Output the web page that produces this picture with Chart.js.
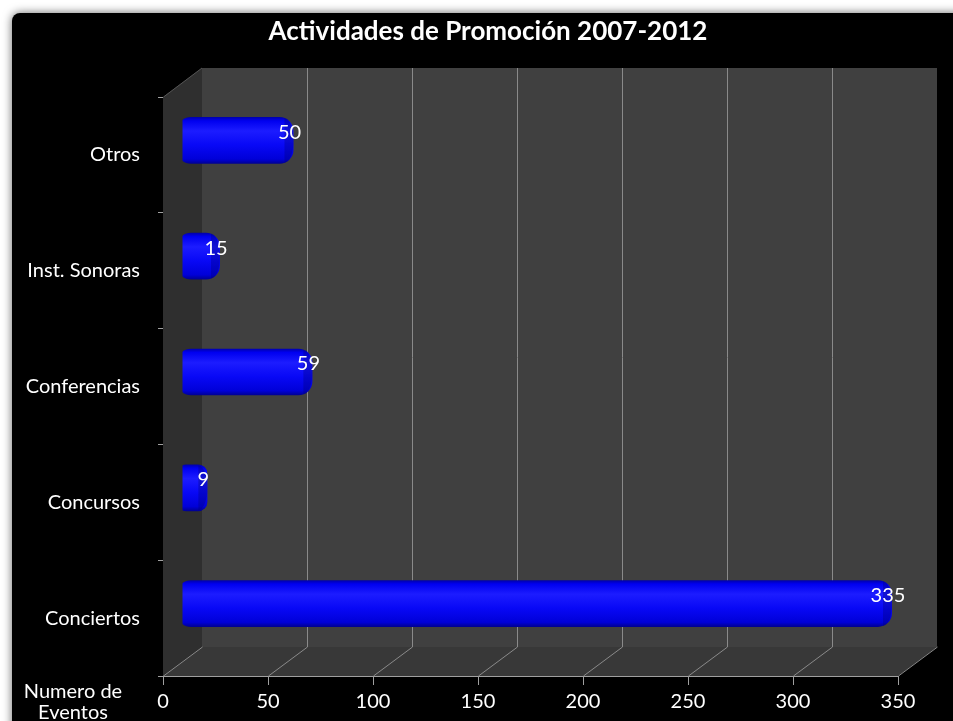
<!DOCTYPE html>
<html>
<head>
<meta charset="utf-8">
<script src="https://cdn.jsdelivr.net/npm/chart.js@4/dist/chart.umd.min.js"></script>
<style>
  html, body { margin: 0; padding: 0; background: #fff; }
  #wrap { width: 953px; height: 721px; }
</style>
</head>
<body>
<div id="wrap"><canvas id="promoChart" width="953" height="721"></canvas></div>
<script>
const categories = ['Otros', 'Inst. Sonoras', 'Conferencias', 'Concursos', 'Conciertos'];
const eventCounts = [50, 15, 59, 9, 335];
const xTicks = [0, 50, 100, 150, 200, 250, 300, 350];

// fake 3D depth (oblique offset of back wall)
const DEPTH_X = 39, DEPTH_Y = -29;
const BAR_PCT = 0.3;
const INFLATE = 6;

const frame = {
  id: 'frame',
  beforeDraw(chart) {
    const c = chart.ctx;
    c.save();
    c.fillStyle = '#fff';
    c.fillRect(0, 0, chart.width, chart.height);
    c.shadowColor = 'rgba(0,0,0,0.6)';
    c.shadowBlur = 10;
    c.fillStyle = '#000';
    c.beginPath();
    c.roundRect(12, 13, chart.width + 20, chart.height + 20, 8);
    c.fill();
    c.restore();
  }
};

const walls = {
  id: 'walls',
  beforeDatasetsDraw(chart) {
    const c = chart.ctx, a = chart.chartArea, x = chart.scales.x;
    const l = a.left, r = a.right, t = a.top, b = a.bottom;
    c.save();
    // back wall
    c.fillStyle = '#404040';
    c.fillRect(l + DEPTH_X, t + DEPTH_Y, r - l, b - t);
    // side wall
    c.fillStyle = '#2f2f2f';
    c.beginPath();
    c.moveTo(l, t); c.lineTo(l + DEPTH_X, t + DEPTH_Y);
    c.lineTo(l + DEPTH_X, b + DEPTH_Y); c.lineTo(l, b); c.closePath(); c.fill();
    // floor
    c.fillStyle = '#383838';
    c.beginPath();
    c.moveTo(l, b); c.lineTo(r, b);
    c.lineTo(r + DEPTH_X, b + DEPTH_Y); c.lineTo(l + DEPTH_X, b + DEPTH_Y);
    c.closePath(); c.fill();
    // grid lines on back wall and floor
    c.strokeStyle = '#8a8a8a';
    c.lineWidth = 1;
    xTicks.forEach((v, i) => {
      const px = Math.round(x.getPixelForValue(v)) + 0.5;
      c.beginPath();
      if (i > 0 && i < xTicks.length - 1) {
        c.moveTo(px + DEPTH_X, t + DEPTH_Y);
        c.lineTo(px + DEPTH_X, b + DEPTH_Y);
      }
      c.moveTo(px, b);
      c.lineTo(px + DEPTH_X, b + DEPTH_Y);
      c.stroke();
    });
    c.strokeStyle = '#555';
    c.beginPath();
    c.moveTo(l + 0.5, t); c.lineTo(l + DEPTH_X, t + DEPTH_Y);
    c.stroke();
    c.restore();
    // shift bars to mid depth
    c.save();
    c.translate(DEPTH_X / 2, DEPTH_Y / 2);
  },
  afterDatasetsDraw(chart) {
    const c = chart.ctx;
    const meta = chart.getDatasetMeta(0);
    // cylinder end caps
    meta.data.forEach((bar) => {
      const h = bar.height / 2 + INFLATE;
      c.fillStyle = 'rgba(0,0,110,0.3)';
      c.beginPath();
      c.ellipse(bar.x - 3, bar.y, 9, h - 1, 0, -Math.PI / 2, Math.PI / 2);
      c.fill();
    });
    c.restore();
    // value labels
    c.save();
    c.fillStyle = '#fff';
    c.font = '20px Lato';
    c.textAlign = 'center';
    c.textBaseline = 'middle';
    meta.data.forEach((bar, i) => {
      c.fillText(String(eventCounts[i]), bar.x + DEPTH_X / 2 + 2, bar.y + DEPTH_Y / 2 - 8);
    });
    // axis title
    c.font = '20px Lato';
    const a = chart.chartArea;
    c.fillText('Numero de', a.left - 90, a.bottom + 16);
    c.fillText('Eventos', a.left - 90, a.bottom + 37);
    c.restore();
  }
};

// vertical shading of each cylinder; the canvas is already translated when bars are filled
function barFill(ctx) {
  const chart = ctx.chart, y = chart.scales.y;
  if (!y || ctx.dataIndex == null) return '#0a0aff';
  const yc = y.getPixelForValue(ctx.dataIndex);
  const h = (y.height / categories.length) * BAR_PCT / 2 + INFLATE;
  if (!isFinite(yc) || !isFinite(h) || h <= 0) return '#0a0aff';
  const g = chart.ctx.createLinearGradient(0, yc - h, 0, yc + h);
  g.addColorStop(0, '#0000a8');
  g.addColorStop(0.08, '#0000f0');
  g.addColorStop(0.3, '#1c1cff');
  g.addColorStop(0.6, '#0808f6');
  g.addColorStop(0.9, '#0000d8');
  g.addColorStop(1, '#000090');
  return g;
}

new Chart('promoChart', {
  type: 'bar',
  data: {
    labels: categories,
    datasets: [{
      label: 'Numero de Eventos',
      data: eventCounts,
      backgroundColor: barFill,
      borderWidth: 0,
      borderSkipped: false,
      borderRadius: 14,
      inflateAmount: INFLATE,
      categoryPercentage: 1,
      barPercentage: BAR_PCT
    }]
  },
  options: {
    indexAxis: 'y',
    responsive: false,
    animation: false,
    layout: { padding: { left: 23, right: 0, top: 0, bottom: 0 } },
    plugins: {
      legend: { display: false },
      tooltip: { enabled: false },
      title: {
        display: true,
        text: 'Actividades de Promoción 2007-2012',
        color: '#fff',
        font: { family: 'Lato', size: 26, weight: 'bold' },
        padding: { top: 16, bottom: 49.8 }
      }
    },
    scales: {
      x: {
        min: 0,
        max: 350,
        afterBuildTicks: (s) => { s.ticks = xTicks.map(v => ({ value: v })); },
        afterFit: (s) => { s.height = 45; },
        border: { display: true, color: '#a0a0a0' },
        grid: { drawOnChartArea: false, drawTicks: true, tickLength: 9, color: '#a0a0a0' },
        ticks: { color: '#fff', font: { family: 'Lato', size: 20 }, padding: 5 }
      },
      y: {
        afterFit: (s) => { s.width = 140; },
        border: { display: true, color: '#a0a0a0' },
        grid: { drawOnChartArea: false, drawTicks: true, tickLength: 5, color: '#a0a0a0', offset: true },
        ticks: { color: '#fff', font: { family: 'Lato', size: 20 }, padding: 18 }
      },
      // empty right-hand box so the plot ends where the reference does
      yRight: {
        type: 'category',
        axis: 'y',
        position: 'right',
        afterFit: (s) => { s.width = 55; },
        border: { display: false },
        grid: { display: false },
        ticks: { display: false }
      }
    }
  },
  plugins: [frame, walls]
});
</script>
</body>
</html>
